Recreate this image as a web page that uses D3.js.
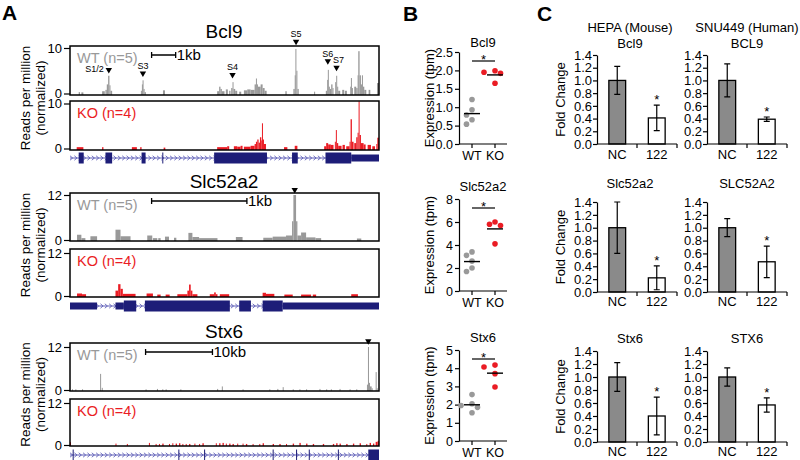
<!DOCTYPE html>
<html><head><meta charset="utf-8">
<script src="https://cdn.jsdelivr.net/npm/d3@7"></script>
<style>
body{margin:0;background:#fff}
svg{display:block}
text{font-family:"Liberation Sans",Arial,Helvetica,sans-serif;fill:#000}
</style>
</head><body>
<svg id="c" width="800" height="460"></svg>
<script>
// ---------------- DATA ----------------
// Panel A: coverage as [start, end, value] in track units (0..924)
const bcl9WT = [[26,30,0.3],[34,40,0.25],[96,104,0.5],[106,110,0.8],[110,114,2.0],[114,118,3.9],[118,121,1.8],[121,126,0.6],
 [212,215,0.6],[215,217,2.0],[217,220,2.9],[220,223,1.0],[223,227,0.3],[278,284,0.7],
 [440,446,0.5],[446,450,1.5],[450,454,1.0],[454,462,0.5],[466,472,0.9],[476,480,0.6],[482,486,1.2],[486,489,2.5],[489,494,1.0],[494,500,0.6],
 [506,512,0.4],[520,530,0.7],[530,540,0.9],[540,552,0.8],[552,556,2.0],[556,559,3.3],[559,562,2.0],[562,570,1.5],[570,576,2.0],[576,582,1.2],[582,588,0.6],
 [644,648,0.5],[668,672,1.0],[672,674,4.0],[674,677,9.8],[677,680,5.0],[680,684,1.0],[730,733,0.4],
 [765,769,0.6],[769,771,3.0],[771,774,5.2],[774,777,1.5],[777,781,1.0],[781,785,2.0],[785,788,1.2],
 [793,796,2.5],[796,799,3.9],[799,802,1.5],[802,808,0.6],[814,820,0.8],[822,828,0.6],
 [838,840,1.5],[840,843,3.4],[843,846,1.2],[850,856,1.5],[856,860,1.2],[860,862,4.0],[862,866,9.3],[866,870,4.0],[870,873,2.0],
 [873,876,4.0],[876,880,1.5],[880,886,0.8],[893,898,0.8],[918,924,2.3]];
const bcl9KO = [[20,40,0.3],[96,100,0.3],[185,200,0.3],[210,214,0.3],[280,285,0.2],
 [440,470,0.3],[470,476,0.5],[490,500,0.5],[500,510,0.4],[510,516,0.6],[520,540,0.4],[540,552,0.6],[552,556,1.0],[556,560,1.5],[560,564,2.0],
 [564,568,1.3],[568,572,2.5],[572,574,1.8],[574,577,5.6],[577,580,2.0],[580,586,1.0],
 [640,650,0.3],[672,680,0.6],[760,766,0.5],[766,772,1.2],[772,780,0.9],[780,788,0.8],[792,795,1.5],[795,798,4.1],[798,802,1.2],[802,812,0.6],
 [815,822,0.8],[826,836,0.5],[836,839,1.5],[839,843,6.5],[843,848,1.5],[850,856,1.2],[856,860,2.5],[860,863,3.5],[863,866,10.5],[866,870,3.0],
 [870,878,1.2],[878,884,0.9],[890,900,0.8],[904,912,0.5],[916,919,1.0],[919,924,2.4]];
const slcWT = [[21,34,1.4],[34,46,0.5],[61,81,1.0],[136,151,2.75],[151,181,1.0],[231,246,1.2],[248,261,0.5],[264,271,0.5],[284,296,0.9],[311,318,0.6],
 [354,366,1.9],[366,386,0.8],[386,441,0.5],[496,516,0.8],[578,606,0.6],[606,646,0.9],[646,664,1.2],[664,668,5.0],[668,676,12.0],[676,680,5.0],
 [680,691,1.2],[691,706,2.0],[706,734,0.7],[734,751,0.5],[858,871,0.4]];
const slcKO = [[21,36,0.7],[36,48,0.5],[136,144,1.5],[144,151,3.3],[151,158,2.0],[158,196,0.6],[229,248,0.7],[261,271,0.4],[286,298,0.4],
 [321,351,0.5],[351,356,1.5],[356,361,3.2],[361,366,1.5],[366,381,0.5],[418,431,0.5],[431,436,1.0],[436,441,0.5],[448,476,0.5],
 [576,586,0.9],[586,611,0.6],[641,666,0.4],[691,721,0.4],[726,736,0.4],[841,861,0.5]];
const stxWT = [[6,8,0.2],[16,18,0.2],[36,38,0.2],[90,93,4.5],[95,97,0.6],[226,228,0.2],[260,262,0.3],[276,278,0.2],[286,288,0.2],[330,332,0.2],
 [440,442,0.3],[454,456,1.0],[516,518,0.2],[596,598,0.2],[620,622,0.3],[636,638,0.8],[666,668,0.2],[686,688,0.2],[706,708,0.2],[746,748,0.3],
 [766,768,0.2],[780,782,0.2],[806,808,0.3],[836,838,0.2],[856,858,0.2],[888,891,1.5],[891,894,12.0],[894,897,2.0],[897,902,1.0],[902,904,0.5],
 [914,917,5.0],[917,920,0.5]];
const stxKO = [[0,3,0.8],[136,138,0.4],[170,172,0.3],[236,238,0.6],[256,258,0.3],[266,268,0.3],[276,280,0.4],[296,298,0.3],[306,308,0.5],
 [316,320,0.4],[326,330,0.5],[336,338,0.3],[346,348,0.3],[356,360,0.3],[372,374,0.4],[386,388,0.3],[396,400,0.5],[436,438,0.5],[446,450,0.5],
 [456,460,0.6],[466,468,0.4],[476,480,0.4],[486,490,0.3],[500,502,0.4],[516,518,0.4],[526,530,0.3],[546,548,0.3],[566,568,0.3],[576,580,0.5],
 [606,610,0.3],[626,630,0.3],[646,648,0.3],[666,670,0.4],[686,690,0.6],[706,710,0.4],[726,730,0.3],[756,760,0.3],[786,790,0.3],[796,800,0.5],
 [806,810,0.4],[826,830,0.3],[846,850,0.4],[866,870,0.5],[886,888,0.3],[896,900,0.6],[906,910,0.4],[914,920,0.9],[920,924,1.2]];

// gene models [start, end]
const bcl9Exons = [[26,41],[106,126],[214,226],[276,279],[431,589],[664,681],[764,841]];
const bcl9Utrs  = [[841,924]];
const slcExons  = [[161,198],[224,478],[506,541],[576,636]];
const slcUtrs   = [[0,81],[136,161],[636,924]];
const stxExons  = [[8,9],[324,325],[401,402],[606,607],[676,677],[714,715],[801,802],[892,924]];
const stxUtrs   = [];

// binding-site markers [label, position, value]
const bcl9Sites = [['S1/2',116,4.4],['S3',218,3.6],['S4',486,3.3],['S5',676,10.6],['S6',771,6.3],['S7',797,4.9]];
const slcSites = [['',672,12.4]];
const stxSites = [['',892,12.6]];

// scale bars [start, length, label]
const bcl9Bar = [244,72,'1kb'];
const slcBar  = [244,285,'1kb'];
const stxBar  = [226,200,'10kb'];

const trackTicksBcl9 = [0,10];
const trackTicks12 = [0,12];

// Panel B: expression (tpm)
const bGroups = ['WT','KO'];
const bGenes = ['Bcl9','Slc52a2','Stx6'];
const bcl9ExprWT = [1.21,0.93,0.79,0.66,0.54];
const bcl9ExprKO = [1.95,1.92,1.99,1.65];
const slcExprWT  = [3.4,3.1,2.6,2.0,1.7];
const slcExprKO  = [5.8,5.7,6.0,4.1];
const stxExprWT  = [2.55,2.05,1.95,1.85,1.55];
const stxExprKO  = [4.07,4.17,3.7,2.97];
const bcl9ExprTicks = [0,0.5,1.0,1.5,2.0,2.5];
const slcExprTicks = [0,2,4,6,8];
const stxExprTicks = [0,1,2,3,4,5];

// Panel C: fold change
const cCategories = ['NC','122'];
const cMouseLabels = ['Bcl9','Slc52a2','Stx6'];
const cHumanLabels = ['BCL9','SLC52A2','STX6'];
const cMouseNC = [1.0,1.0,1.0];
const cMouseNCErr = [0.22,0.40,0.22];
const cMouse122 = [0.41,0.22,0.40];
const cMouse122Err = [0.20,0.185,0.29];
const cHumanNC = [1.0,1.0,1.0];
const cHumanNCErr = [0.26,0.14,0.14];
const cHuman122 = [0.39,0.47,0.57];
const cHuman122Err = [0.035,0.245,0.11];
const cTicks = [0,0.2,0.4,0.6,0.8,1.0,1.2,1.4];

// ---------------- DRAW ----------------
const svg = d3.select('#c');
const WT_COL = '#999999', KO_COL = '#ea1c24', GENE_COL = '#1d1d78', INTRON_COL = '#6060b8';
const defs = svg.append('defs');

[['A',2,20],['B',403,21],['C',537,21]].forEach(([t,x,y]) =>
  svg.append('text').attr('x',x).attr('y',y).style('font-size','21px').style('font-weight','bold').text(t));

const xT = d3.scaleLinear().domain([0,924]).range([70,379]);
let clipN = 0;

function coverageBox(g, data, box, yRange, max, ticks, color, label) {
  const y = d3.scaleLinear().domain([0,max]).range(yRange);
  const id = 'clip' + (clipN++);
  defs.append('clipPath').attr('id',id).append('rect')
    .attr('x',xT(0)).attr('y',box[0]).attr('width',xT(924)-xT(0)).attr('height',box[1]-box[0]);
  g.append('g').attr('clip-path',`url(#${id})`).selectAll('rect').data(data).join('rect')
    .attr('x',d=>xT(d[0])).attr('width',d=>Math.max(1,xT(d[1])-xT(d[0])))
    .attr('y',d=>y(d[2])).attr('height',d=>box[1]-y(d[2])).attr('fill',color);
  g.append('rect').attr('x',xT(0)).attr('y',box[0]).attr('width',xT(924)-xT(0)).attr('height',box[1]-box[0])
    .attr('fill','none').attr('stroke','#000').attr('stroke-width',1.5);
  const ax = d3.axisLeft(y).tickValues(ticks).tickSize(6).tickPadding(2).tickSizeOuter(0);
  const ag = g.append('g').attr('transform',`translate(${xT(0)},0)`).call(ax);
  ag.select('.domain').remove();
  ag.selectAll('text').style('font-size','13px').style('font-family','"Liberation Sans",Arial,sans-serif');
  ag.selectAll('line').attr('stroke','#000').attr('stroke-width',1.2);
  g.append('text').attr('x',xT(0)+7).attr('y',box[0]+17).style('font-size','14.5px').style('fill',color).text(label);
  return y;
}

function geneModel(g, yc, exons, utrs) {
  g.append('line').attr('x1',xT(0)).attr('x2',xT(924)).attr('y1',yc).attr('y2',yc)
    .attr('stroke',INTRON_COL).attr('stroke-width',1.2);
  const chev = d3.range(4, 924, 13);
  g.selectAll('path.chev').data(chev).join('path').attr('class','chev')
    .attr('d',d=>{const x=xT(d);return `M${x-1.3},${yc-2.2}L${x+1.3},${yc}L${x-1.3},${yc+2.2}`;})
    .attr('fill','none').attr('stroke',INTRON_COL).attr('stroke-width',0.9);
  g.selectAll('rect.utr').data(utrs).join('rect').attr('class','utr')
    .attr('x',d=>xT(d[0])).attr('width',d=>Math.max(1,xT(d[1])-xT(d[0])))
    .attr('y',yc-3.5).attr('height',7).attr('fill',GENE_COL);
  g.selectAll('rect.exon').data(exons).join('rect').attr('class','exon')
    .attr('x',d=>xT(d[0])).attr('width',d=>Math.max(1,xT(d[1])-xT(d[0])))
    .attr('y',yc-5.5).attr('height',11).attr('fill',GENE_COL);
}

const trackCfg = [
  {title:'Bcl9', titleY:38, wt:bcl9WT, ko:bcl9KO, max:10, ticks:trackTicksBcl9,
   wtBox:[46,95], wtR:[93.5,48], koBox:[101,150], koR:[148.5,103.5], geneY:158,
   exons:bcl9Exons, utrs:bcl9Utrs, sites:bcl9Sites, bar:bcl9Bar, barY:55},
  {title:'Slc52a2', titleY:188, wt:slcWT, ko:slcKO, max:12, ticks:trackTicks12,
   wtBox:[193,241], wtR:[240,195], koBox:[249,297], koR:[296,253], geneY:306,
   exons:slcExons, utrs:slcUtrs, sites:slcSites, bar:slcBar, barY:201},
  {title:'Stx6', titleY:338, wt:stxWT, ko:stxKO, max:12, ticks:trackTicks12,
   wtBox:[343,391], wtR:[390,347], koBox:[399,446], koR:[445,403], geneY:455,
   exons:stxExons, utrs:stxUtrs, sites:stxSites, bar:stxBar, barY:352}
];

trackCfg.forEach(c => {
  const g = svg.append('g');
  g.append('text').attr('x',224).attr('y',c.titleY).attr('text-anchor','middle').style('font-size','19px').text(c.title);
  const yMid = (c.wtBox[0]+c.koBox[1])/2;
  g.append('text').attr('transform',`translate(30,${yMid}) rotate(-90)`).attr('text-anchor','middle')
    .style('font-size','13.5px').text('Reads per million');
  g.append('text').attr('transform',`translate(45,${yMid}) rotate(-90)`).attr('text-anchor','middle')
    .style('font-size','13.5px').text('(normalized)');
  const yW = coverageBox(g, c.wt, c.wtBox, c.wtR, c.max, c.ticks, WT_COL, 'WT (n=5)');
  coverageBox(g, c.ko, c.koBox, c.koR, c.max, c.ticks, KO_COL, 'KO (n=4)');
  geneModel(g, c.geneY, c.exons, c.utrs);
  // scale bar
  const bx0 = xT(c.bar[0]), bx1 = xT(c.bar[0]+c.bar[1]);
  g.append('path').attr('d',`M${bx0},${c.barY-3}V${c.barY+3}M${bx0},${c.barY}H${bx1}M${bx1},${c.barY-3}V${c.barY+3}`)
    .attr('stroke','#000').attr('stroke-width',1.3).attr('fill','none');
  g.append('text').attr('x',bx1+1).attr('y',c.barY+5).style('font-size','15px').text(c.bar[2]);
  // site markers
  c.sites.forEach(([lab,pos,val]) => {
    const x = xT(pos), tip = yW(val);
    g.append('path').attr('d',`M${x-3.2},${tip-5.5}L${x+3.2},${tip-5.5}L${x},${tip}Z`).attr('fill','#000');
    if (lab === 'S1/2') {
      g.append('text').attr('x',x-5).attr('y',tip-1.5).attr('text-anchor','end').style('font-size','9px').text(lab);
    } else if (lab) {
      g.append('text').attr('x',x+(lab==='S7'?2:0)).attr('y',tip-8).attr('text-anchor','middle').style('font-size','9px').text(lab);
    }
  });
});

// ---- Panel B ----
const bCfg = [
  {title:'Bcl9', titleY:47, wt:bcl9ExprWT, ko:bcl9ExprKO, max:2.5, ticks:bcl9ExprTicks, fmt:d3.format('.1f'), y0:144, y1:52},
  {title:'Slc52a2', titleY:191, wt:slcExprWT, ko:slcExprKO, max:8, ticks:slcExprTicks, fmt:d3.format('d'), y0:291, y1:199},
  {title:'Stx6', titleY:342, wt:stxExprWT, ko:stxExprKO, max:5, ticks:stxExprTicks, fmt:d3.format('d'), y0:441, y1:350}
];
const xB = d3.scalePoint().domain(bGroups).range([472,495]);
const axX = 459;
bCfg.forEach(c => {
  const g = svg.append('g');
  const y = d3.scaleLinear().domain([0,c.max]).range([c.y0,c.y1]);
  g.append('text').attr('x',483).attr('y',c.titleY).attr('text-anchor','middle').style('font-size','13px').text(c.title);
  g.append('text').attr('transform',`translate(434,${(c.y0+c.y1)/2}) rotate(-90)`).attr('text-anchor','middle')
    .style('font-size','13px').text('Expression (tpm)');
  const ag = g.append('g').attr('transform',`translate(${axX},0)`)
    .call(d3.axisLeft(y).tickValues(c.ticks).tickFormat(c.fmt).tickSize(4).tickPadding(2).tickSizeOuter(0));
  ag.selectAll('text').style('font-size','12.5px').style('font-family','"Liberation Sans",Arial,sans-serif');
  ag.selectAll('line,path').attr('stroke','#000').attr('stroke-width',1.2);
  g.append('line').attr('x1',axX).attr('x2',507).attr('y1',y(0)).attr('y2',y(0)).attr('stroke','#000').attr('stroke-width',1.2);
  bGroups.forEach(k => {
    g.append('line').attr('x1',xB(k)).attr('x2',xB(k)).attr('y1',y(0)).attr('y2',y(0)+4).attr('stroke','#000').attr('stroke-width',1.2);
    g.append('text').attr('x',xB(k)).attr('y',y(0)+16).attr('text-anchor','middle').style('font-size','12.5px').text(k);
  });
  // significance bar
  const sy = c.y1 + 9;
  g.append('line').attr('x1',xB('WT')).attr('x2',xB('KO')).attr('y1',sy).attr('y2',sy).attr('stroke','#000').attr('stroke-width',1.2);
  g.append('text').attr('x',(xB('WT')+xB('KO'))/2).attr('y',sy+2.5).attr('text-anchor','middle').style('font-size','13px').text('*');
  [['WT',c.wt,WT_COL],['KO',c.ko,KO_COL]].forEach(([k,vals,col]) => {
    const r = 2.8;
    const placed = [];
    const pts = vals.map(v=>({v})).sort((a,b)=>b.v-a.v);
    pts.forEach(p => {
      const py = y(p.v);
      for (const off of [0,-5.5,5.5,-11,11]) {
        const px = xB(k)+off;
        if (placed.every(q => Math.hypot(q.x-px,q.y-py) >= 2*r+0.3)) { p.x=px; p.y=py; break; }
      }
      if (p.x===undefined){p.x=xB(k);p.y=py;}
      placed.push(p);
    });
    g.selectAll(null).data(pts).join('circle').attr('cx',d=>d.x).attr('cy',d=>d.y).attr('r',r).attr('fill',col);
    const m = d3.mean(vals);
    g.append('line').attr('x1',xB(k)-8).attr('x2',xB(k)+8).attr('y1',y(m)).attr('y2',y(m)).attr('stroke','#000').attr('stroke-width',1.4);
  });
});

// ---- Panel C ----
const cRows = [{y0:144,y1:55,titleY:48,labY:159},{y0:292,y1:202,titleY:188,labY:306},{y0:442,y1:351,titleY:343,labY:456}];
const cCols = [
  {ax:597, labels:cMouseLabels, nc:cMouseNC, ncErr:cMouseNCErr, tr:cMouse122, trErr:cMouse122Err, head:'HEPA (Mouse)', cx:630},
  {ax:707, labels:cHumanLabels, nc:cHumanNC, ncErr:cHumanNCErr, tr:cHuman122, trErr:cHuman122Err, head:'SNU449 (Human)', cx:747}
];
cCols.forEach((col,ci) => {
  svg.append('text').attr('x',col.cx).attr('y',32).attr('text-anchor','middle').style('font-size','13px').text(col.head);
  const xC = d3.scaleBand().domain(cCategories).range([col.ax, col.ax+80]).paddingInner(0.575).paddingOuter(0.3);
  cRows.forEach((row,ri) => {
    const g = svg.append('g');
    const y = d3.scaleLinear().domain([0,1.4]).range([row.y0,row.y1]);
    g.append('text').attr('x',col.cx).attr('y',row.titleY).attr('text-anchor','middle').style('font-size','13px').text(col.labels[ri]);
    if (ci===0) g.append('text').attr('transform',`translate(565,${(row.y0+row.y1)/2}) rotate(-90)`).attr('text-anchor','middle')
      .style('font-size','13px').text('Fold Change');
    const vals = [col.nc[ri], col.tr[ri]], errs = [col.ncErr[ri], col.trErr[ri]];
    g.selectAll('rect').data(cCategories).join('rect')
      .attr('x',d=>xC(d)).attr('width',xC.bandwidth())
      .attr('y',(d,i)=>y(vals[i])).attr('height',(d,i)=>y(0)-y(vals[i]))
      .attr('fill',(d,i)=>i===0?'#8a8a8a':'#fff').attr('stroke','#000').attr('stroke-width',1.3);
    cCategories.forEach((k,i) => {
      const cx = xC(k)+xC.bandwidth()/2, lo=y(vals[i]-errs[i]), hi=y(vals[i]+errs[i]);
      g.append('path').attr('d',`M${cx},${lo}V${hi}M${cx-3},${lo}H${cx+3}M${cx-3},${hi}H${cx+3}`)
        .attr('stroke','#000').attr('stroke-width',1.2).attr('fill','none');
      g.append('text').attr('x',cx).attr('y',row.labY).attr('text-anchor','middle').style('font-size','13px').text(k);
      if (i===1) g.append('text').attr('x',cx).attr('y',hi-1).attr('text-anchor','middle').style('font-size','13px').text('*');
    });
    const ag = g.append('g').attr('transform',`translate(${col.ax},0)`)
      .call(d3.axisLeft(y).tickValues(cTicks).tickFormat(d3.format('.1f')).tickSize(4).tickPadding(1).tickSizeOuter(0));
    ag.selectAll('text').style('font-size','13px').style('font-family','"Liberation Sans",Arial,sans-serif');
    ag.selectAll('line,path').attr('stroke','#000').attr('stroke-width',1.2);
    g.append('line').attr('x1',col.ax).attr('x2',col.ax+80).attr('y1',y(0)).attr('y2',y(0)).attr('stroke','#000').attr('stroke-width',1.2);
    [40,80].forEach(dx => g.append('line').attr('x1',col.ax+dx).attr('x2',col.ax+dx).attr('y1',y(0)).attr('y2',y(0)+4).attr('stroke','#000').attr('stroke-width',1.2));
  });
});
</script>
</body></html>
